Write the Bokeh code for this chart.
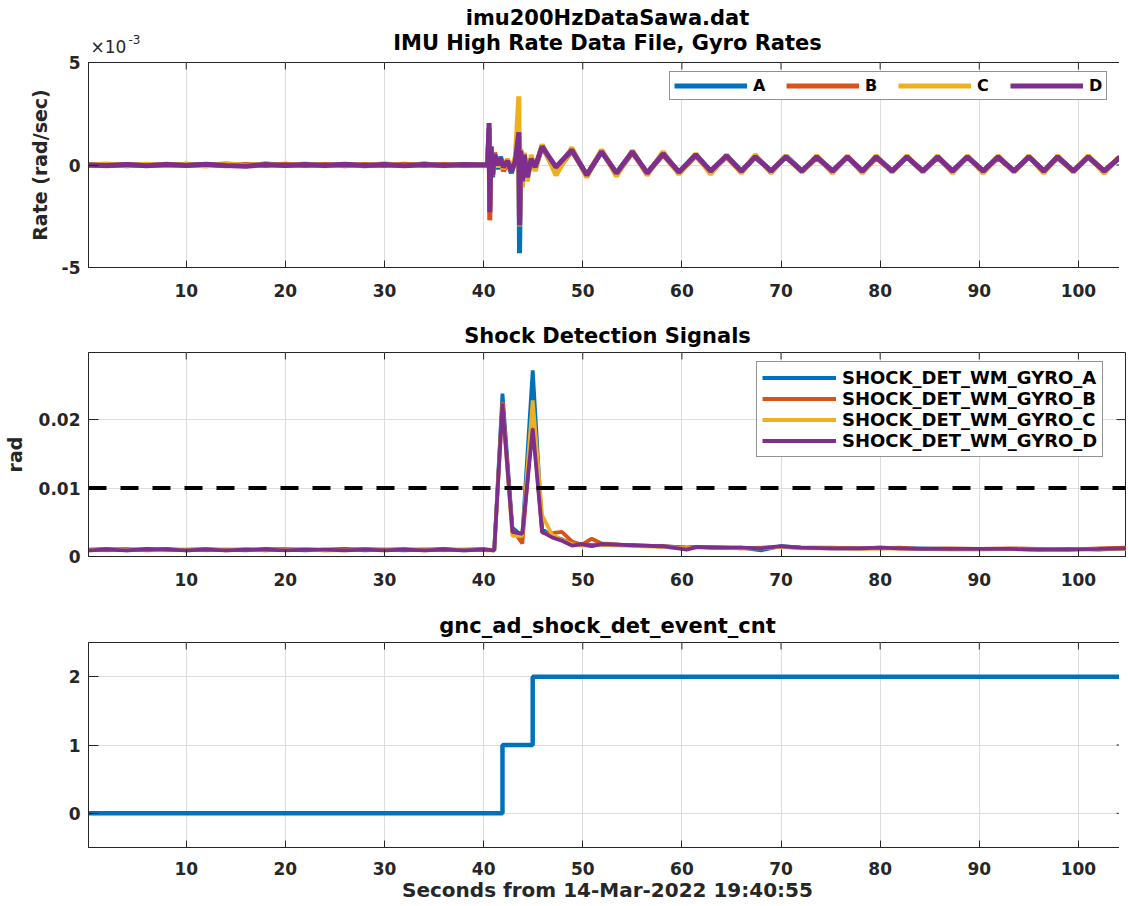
import math
from bokeh.plotting import figure
from bokeh.models import Range1d, FixedTicker, Title, Label, Legend, LegendItem, Span
from bokeh.layouts import column
from bokeh.embed import file_html
from bokeh.resources import INLINE

FONT = "DejaVu Sans"
AX = "#262626"
GRID = "#dedede"
COLORS = ["#0072BD", "#D95319", "#EDB120", "#7E2F8E"]

X0, X1 = 0.14, 104.85
XTICKS = [10, 20, 30, 40, 50, 60, 70, 80, 90, 100]

# ---------------- Gyro rates (x 1e-3 rad/sec) ----------------
T1 = [0.14, 2, 4, 6, 8, 10, 12, 14, 16, 18, 20, 22, 24, 26, 28, 30, 32, 34, 36, 38, 40.40,
      40.55, 40.62, 40.75, 40.90, 41.10, 41.40, 41.70, 42.00, 42.40, 42.80, 43.20, 43.55, 43.62,
      43.75, 43.90, 44.10, 44.40, 44.80, 45.20,
      45.90, 47.30, 48.90, 50.40, 51.90, 53.40, 55.00, 56.50, 58.10, 59.70, 61.40, 62.90, 64.50,
      66.00, 67.40, 69.00, 70.50, 72.10, 73.60, 75.20, 76.70, 78.20, 79.60, 81.20, 82.70, 84.30,
      85.80, 87.30, 88.80, 90.40, 91.90, 93.50, 95.00, 96.50, 97.90, 99.50, 101.00, 102.60, 104.10, 104.85]

RATE_A = [0.0, 0.03, -0.04, 0.02, -0.03, 0.04, -0.02, 0.03, -0.04, 0.05, -0.02, 0.03, -0.03, 0.02, -0.04, 0.03, -0.02, 0.05, -0.03, 0.02, 0.0,
          1.8, -2.0, 0.9, -0.6, 0.5, -0.2, 0.4, -0.1, 0.2, -0.4, 0.3, 1.4, -4.3, 0.6, -0.9, 0.5, -0.7, 0.3, -0.2,
          0.95, -0.3, 0.75, -0.5, 0.65, -0.4, 0.65, -0.4, 0.55, -0.35, 0.5, -0.3, 0.45, -0.3, 0.4, -0.3, 0.45, -0.3, 0.4, -0.3,
          0.4, -0.3, 0.4, -0.3, 0.4, -0.3, 0.4, -0.3, 0.4, -0.3, 0.4, -0.3, 0.4, -0.3, 0.4, -0.3, 0.4, -0.3, 0.35, 0.1]
RATE_B = [0.0, -0.04, 0.03, -0.02, 0.04, -0.03, 0.02, -0.04, 0.03, -0.02, 0.04, -0.03, 0.02, -0.04, 0.03, -0.02, 0.04, -0.03, 0.02, -0.03, 0.0,
          1.6, -2.7, 0.7, -0.4, 0.6, 0.1, 0.2, -0.3, 0.1, -0.3, 0.2, 1.6, -2.9, 0.5, -1.0, 0.4, -0.5, 0.2, -0.1,
          0.9, -0.35, 0.7, -0.5, 0.7, -0.45, 0.6, -0.4, 0.5, -0.4, 0.45, -0.35, 0.4, -0.35, 0.4, -0.3, 0.4, -0.3, 0.35, -0.3,
          0.4, -0.35, 0.35, -0.3, 0.4, -0.3, 0.35, -0.3, 0.4, -0.3, 0.35, -0.3, 0.4, -0.3, 0.35, -0.3, 0.4, -0.3, 0.35, 0.1]
RATE_C = [0.0, 0.05, -0.03, 0.04, -0.02, 0.03, -0.05, 0.07, -0.03, 0.04, -0.02, 0.05, -0.04, 0.03, -0.02, 0.06, -0.03, 0.02, -0.04, 0.03, 0.0,
          1.7, -2.1, 0.8, -0.5, 0.4, -0.1, 0.3, -0.2, 0.3, -0.2, 0.4, 3.35, -3.0, 0.8, -1.1, 0.6, -0.8, 0.5, -0.3,
          1.0, -0.5, 0.85, -0.6, 0.75, -0.55, 0.7, -0.5, 0.65, -0.45, 0.55, -0.45, 0.5, -0.4, 0.5, -0.4, 0.45, -0.35, 0.45, -0.4,
          0.45, -0.4, 0.45, -0.35, 0.45, -0.35, 0.45, -0.4, 0.45, -0.4, 0.45, -0.35, 0.45, -0.4, 0.45, -0.35, 0.45, -0.4, 0.4, 0.1]
RATE_D = [0.0, -0.03, 0.02, -0.04, 0.03, -0.02, 0.04, -0.03, -0.06, 0.02, -0.03, 0.03, -0.02, 0.04, -0.03, 0.02, -0.04, 0.03, -0.02, 0.02, 0.0,
          2.05, -2.3, 0.9, -0.5, 0.5, 0.0, 0.3, -0.1, 0.2, -0.3, 0.2, 1.6, -2.95, 0.7, -0.8, 0.5, -0.6, 0.3, -0.1,
          0.9, -0.1, 0.73, -0.49, 0.65, -0.4, 0.65, -0.4, 0.55, -0.35, 0.5, -0.3, 0.45, -0.3, 0.4, -0.3, 0.4, -0.3, 0.4, -0.3,
          0.4, -0.3, 0.4, -0.3, 0.4, -0.3, 0.4, -0.3, 0.4, -0.3, 0.4, -0.3, 0.4, -0.3, 0.4, -0.3, 0.4, -0.3, 0.35, 0.1]
RATE_NAMES = ["A", "B", "C", "D"]

# ---------------- Shock detection signals (rad) ----------------
T2 = [0.14, 2, 4, 6, 8, 10, 12, 14, 16, 18, 20, 22, 24, 26, 28, 30, 32, 34, 36, 38, 40, 41.07,
      41.90, 42.90, 43.90, 44.95, 45.90, 46.90, 47.90, 48.90, 49.90, 50.90, 51.90,
      54, 56, 58, 60.5, 61.5, 63, 66, 68, 70, 72, 75, 78, 80, 82, 84, 87, 90, 93, 96, 99, 102, 104.85]
SHOCK_A = [0.0010, 0.0011, 0.0009, 0.0010, 0.0011, 0.0009, 0.0010, 0.0010, 0.0009, 0.0011, 0.0010, 0.0009, 0.0010, 0.0011, 0.0009, 0.0010, 0.0009, 0.0010, 0.0011, 0.0009, 0.0010, 0.0009,
           0.0238, 0.0042, 0.0030, 0.0272, 0.0040, 0.0030, 0.0025, 0.0019, 0.0018, 0.0017, 0.0018,
           0.0017, 0.0016, 0.0015, 0.0013, 0.0014, 0.0013, 0.0013, 0.0009, 0.0015, 0.0013, 0.0012, 0.0012, 0.0013, 0.0012, 0.0012, 0.0011, 0.0011, 0.0011, 0.0010, 0.0011, 0.0010, 0.0012]
SHOCK_B = [0.0009, 0.0010, 0.0011, 0.0009, 0.0010, 0.0010, 0.0011, 0.0009, 0.0010, 0.0009, 0.0011, 0.0010, 0.0009, 0.0010, 0.0011, 0.0010, 0.0011, 0.0009, 0.0010, 0.0010, 0.0011, 0.0009,
           0.0226, 0.0040, 0.0019, 0.0200, 0.0035, 0.0034, 0.0036, 0.0022, 0.0017, 0.0026, 0.0019,
           0.0017, 0.0016, 0.0015, 0.0013, 0.0014, 0.0014, 0.0012, 0.0013, 0.0014, 0.0013, 0.0013, 0.0012, 0.0012, 0.0013, 0.0011, 0.0012, 0.0011, 0.0012, 0.0011, 0.0010, 0.0012, 0.0013]
SHOCK_C = [0.0010, 0.0009, 0.0010, 0.0011, 0.0009, 0.0010, 0.0009, 0.0010, 0.0011, 0.0009, 0.0010, 0.0011, 0.0009, 0.0009, 0.0010, 0.0009, 0.0010, 0.0011, 0.0009, 0.0010, 0.0009, 0.0009,
           0.0222, 0.0030, 0.0030, 0.0228, 0.0060, 0.0032, 0.0024, 0.0018, 0.0016, 0.0016, 0.0017,
           0.0016, 0.0015, 0.0014, 0.0012, 0.0013, 0.0013, 0.0012, 0.0012, 0.0014, 0.0012, 0.0012, 0.0011, 0.0012, 0.0011, 0.0011, 0.0010, 0.0010, 0.0011, 0.0010, 0.0010, 0.0011, 0.0011]
SHOCK_D = [0.0009, 0.0010, 0.0009, 0.0011, 0.0010, 0.0009, 0.0010, 0.0009, 0.0010, 0.0010, 0.0009, 0.0010, 0.0010, 0.0009, 0.0010, 0.0009, 0.0010, 0.0009, 0.0010, 0.0009, 0.0010, 0.0009,
           0.0223, 0.0036, 0.0033, 0.0187, 0.0036, 0.0028, 0.0023, 0.0016, 0.0018, 0.0015, 0.0018,
           0.0017, 0.0016, 0.0015, 0.0010, 0.0014, 0.0013, 0.0013, 0.0012, 0.0015, 0.0013, 0.0012, 0.0012, 0.0013, 0.0012, 0.0011, 0.0011, 0.0011, 0.0011, 0.0010, 0.0010, 0.0011, 0.0012]
SHOCK_NAMES = ["SHOCK_DET_WM_GYRO_A", "SHOCK_DET_WM_GYRO_B", "SHOCK_DET_WM_GYRO_C", "SHOCK_DET_WM_GYRO_D"]
THRESHOLD = 0.01

# ---------------- Event count ----------------
T3 = [0.14, 41.9, 44.95, 104.85]
EVENT_CNT = [0, 1, 2, 2]

FW = 1038          # frame width shared by all panels
H_HDR = 55


def make_fig(fheight, btop, bbottom, yr, yticks, ylabels, xstand=16, tick_len_y=10):
    p = figure(frame_width=FW, frame_height=fheight, x_range=Range1d(X0, X1), y_range=Range1d(*yr),
               output_backend="svg", toolbar_location=None, title=None,
               min_border_left=81, min_border_right=0, min_border_top=btop, min_border_bottom=bbottom)
    p.outline_line_color = AX
    p.outline_line_width = 1
    p.background_fill_color = "white"
    p.border_fill_color = "white"
    p.border_fill_alpha = 0.0
    xa = p.below[0]
    xa.ticker = FixedTicker(ticks=XTICKS)
    ya = p.left[0]
    ya.ticker = FixedTicker(ticks=yticks)
    ya.major_label_overrides = dict(zip(yticks, ylabels))
    for ax, tl, so in ((xa, 7, xstand), (ya, tick_len_y, 8)):
        ax.major_tick_in = tl
        ax.major_tick_out = 0
        ax.minor_tick_line_color = None
        ax.axis_line_color = AX
        ax.major_tick_line_color = AX
        ax.major_label_text_font = FONT
        ax.major_label_text_font_style = "bold"
        ax.major_label_text_font_size = "17px"
        ax.major_label_text_color = AX
        ax.major_label_standoff = so
        ax.axis_label_text_font = FONT
        ax.axis_label_text_font_style = "bold"
        ax.axis_label_text_font_size = "19px"
        ax.axis_label_text_color = AX
    p.xgrid.ticker = FixedTicker(ticks=XTICKS)
    p.ygrid.ticker = FixedTicker(ticks=yticks)
    for g in (p.xgrid[0], p.ygrid[0]):
        g.grid_line_color = GRID
        g.grid_line_width = 1
    # mirrored tick marks on the top and right edges of the box
    p.ray(x=XTICKS, y=[yr[1]] * len(XTICKS), length=7, length_units="screen",
          angle=-math.pi / 2, line_color=AX, line_width=1)
    p.ray(x=[X1] * len(yticks), y=yticks, length=tick_len_y, length_units="screen",
          angle=math.pi, line_color=AX, line_width=1)
    return p


def add_title(p, text, standoff):
    p.add_layout(Title(text=text, align="center", text_font=FONT, text_font_style="bold",
                       text_font_size="21px", text_color="black", standoff=standoff), "above")


# ---- Header (figure-level titles and exponent) ----
hdr = figure(frame_width=FW, frame_height=H_HDR, x_range=Range1d(X0, X1), y_range=Range1d(0, H_HDR),
             output_backend="svg", toolbar_location=None, title=None,
             x_axis_type=None, y_axis_type=None,
             min_border_left=81, min_border_right=0, min_border_top=0, min_border_bottom=0)
hdr.outline_line_color = None
hdr.grid.visible = False
XMID = (X0 + X1) / 2
hdr.add_layout(Label(x=XMID, y=38, text="imu200HzDataSawa.dat", text_align="center",
                     text_baseline="alphabetic", text_font=FONT, text_font_style="bold",
                     text_font_size="21px", text_color="black"))
hdr.add_layout(Label(x=XMID, y=13, text="IMU High Rate Data File, Gyro Rates", text_align="center",
                     text_baseline="alphabetic", text_font=FONT, text_font_style="bold",
                     text_font_size="21px", text_color="black"))
hdr.add_layout(Label(x=X0, y=9, x_offset=2, text="×10", text_baseline="alphabetic",
                     text_font=FONT, text_font_size="17px", text_color=AX))
hdr.add_layout(Label(x=X0, y=16, x_offset=40, text="-3", text_baseline="alphabetic",
                     text_font=FONT, text_font_size="12px", text_color=AX))

# ---- Figure 1 ----
p1 = make_fig(205, 7, 38, (-5, 5), [-5, 0, 5], ["-5", "0", "5"])
p1.left[0].axis_label = "Rate (rad/sec)"
p1.left[0].axis_label_standoff = 8
items1 = []
for vals, c, name in zip([RATE_A, RATE_B, RATE_C, RATE_D], COLORS, RATE_NAMES):
    r = p1.line(T1, vals, line_color=c, line_width=5)
    items1.append(LegendItem(label=name, renderers=[r]))
leg1 = Legend(items=items1, orientation="horizontal", location=(600, 167), margin=0, padding=4,
              glyph_width=73, glyph_height=19, label_height=19, label_width=13, label_standoff=6, spacing=20,
              label_text_font=FONT, label_text_font_style="bold", label_text_font_size="16px",
              label_text_color="black", border_line_color=AX, border_line_width=1,
              background_fill_color="white", background_fill_alpha=1.0)
p1.add_layout(leg1)

# ---- Figure 2 ----
p2 = make_fig(204, 47, 38, (0, 0.0298), [0, 0.01, 0.02], ["0", "0.01", "0.02"])
add_title(p2, "Shock Detection Signals", 10)
p2.left[0].axis_label = "rad"
p2.left[0].axis_label_standoff = 10
items2 = []
for vals, c, name in zip([SHOCK_A, SHOCK_B, SHOCK_C, SHOCK_D], COLORS, SHOCK_NAMES):
    r = p2.line(T2, vals, line_color=c, line_width=3.8)
    items2.append(LegendItem(label=name, renderers=[r]))
p2.add_layout(Span(location=THRESHOLD, dimension="width", line_color="black", line_width=4,
                   line_dash="18 14"))
leg2 = Legend(items=items2, orientation="vertical", location=(668, 99), margin=0, padding=5,
              glyph_width=74, glyph_height=21, label_height=21, label_standoff=6, spacing=0,
              label_text_font=FONT, label_text_font_style="bold", label_text_font_size="18px",
              label_text_color="black", border_line_color=AX, border_line_width=1,
              background_fill_color="white", background_fill_alpha=1.0)
p2.add_layout(leg2)

# ---- Figure 3 ----
p3 = make_fig(205, 48, 55, (-0.5, 2.5), [0, 1, 2], ["0", "1", "2"], xstand=14)
add_title(p3, "gnc_ad_shock_det_event_cnt", 10)
xa3 = p3.below[0]
xa3.axis_label = "Seconds from 14-Mar-2022 19:40:55"
xa3.axis_label_text_font_size = "20px"
xa3.axis_label_standoff = 0
p3.step(T3, EVENT_CNT, mode="after", line_color=COLORS[0], line_width=4.5)

layout = column(hdr, p1, p2, p3, spacing=0)
open("out.html", "w").write(file_html(layout, INLINE))
